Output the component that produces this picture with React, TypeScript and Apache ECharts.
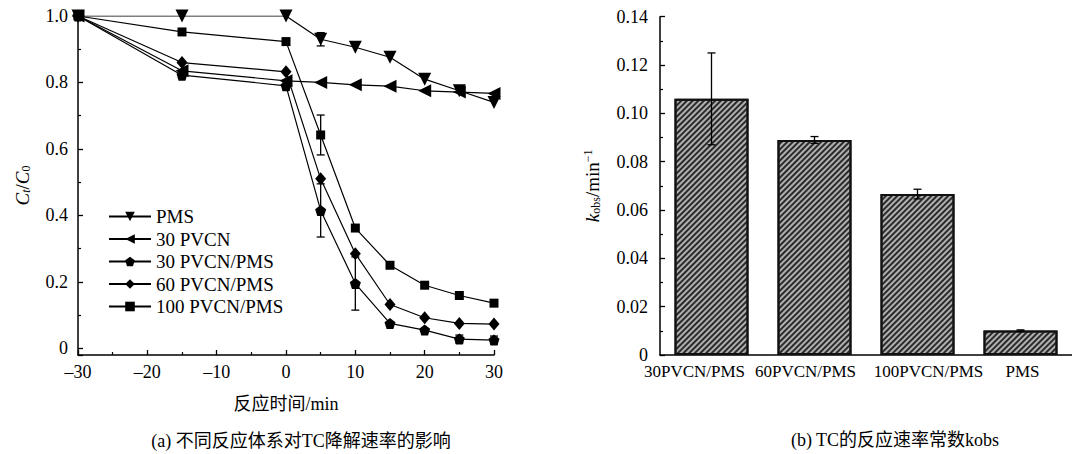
import React, { useEffect, useRef } from "react";
import * as echarts from "echarts";

// ---- Data: left chart (Ct/C0 vs time) ----
const times = [-30, -15, 0, 5, 10, 15, 20, 25, 30];
const seriesNames = ["PMS", "30 PVCN", "30 PVCN/PMS", "60 PVCN/PMS", "100 PVCN/PMS"];
const pmsVals = [1.0, 1.0, 1.0, 0.93, 0.906, 0.876, 0.81, 0.775, 0.74];
const pvcn30Vals = [1.0, 0.835, 0.805, 0.8, 0.793, 0.789, 0.775, 0.771, 0.767];
const pvcnPms30Vals = [1.0, 0.822, 0.79, 0.415, 0.195, 0.075, 0.055, 0.028, 0.025];
const pvcnPms60Vals = [1.0, 0.86, 0.832, 0.51, 0.285, 0.132, 0.092, 0.075, 0.073];
const pvcnPms100Vals = [1.0, 0.952, 0.923, 0.642, 0.362, 0.25, 0.19, 0.159, 0.136];
// error bars: [time, value, half-width]
const lineErrors = [
  [5, 0.93, 0.02],
  [0, 0.79, 0.012],
  [5, 0.415, 0.08],
  [10, 0.195, 0.08],
  [25, 0.028, 0.012],
  [30, 0.025, 0.012],
  [5, 0.642, 0.06],
];

// ---- Data: right chart (kobs) ----
const barCats = ["30PVCN/PMS", "60PVCN/PMS", "100PVCN/PMS", "PMS"];
const barVals = [0.106, 0.089, 0.0666, 0.0101];
const barErrs = [0.019, 0.0014, 0.002, 0.0003];

const SERIF = "Liberation Serif";
const CJK = "Liberation Serif, Noto Sans CJK SC";
const pentagon = "path://M0,-10 L9.51,-3.09 L5.88,8.09 L-5.88,8.09 L-9.51,-3.09 Z";

function errRender(params: any, api: any) {
  const x = api.value(0);
  const y = api.value(1);
  const e = api.value(2);
  const hi = api.coord([x, y + e]);
  const lo = api.coord([x, y - e]);
  const w = 4;
  const st = { stroke: "#000", lineWidth: 1.3 };
  return {
    type: "group",
    children: [
      { type: "line", shape: { x1: hi[0], y1: hi[1], x2: lo[0], y2: lo[1] }, style: st },
      { type: "line", shape: { x1: hi[0] - w, y1: hi[1], x2: hi[0] + w, y2: hi[1] }, style: st },
      { type: "line", shape: { x1: lo[0] - w, y1: lo[1], x2: lo[0] + w, y2: lo[1] }, style: st },
    ],
  };
}

export default function App() {
  const ref = useRef<HTMLDivElement>(null);
  useEffect(() => {
    if (!ref.current) return;
    const chart = echarts.init(ref.current, null, { renderer: "svg" });
    const mk = (arr: number[]) => times.map((t, i) => [t, arr[i]]);
    const lineBase = {
      type: "line",
      xAxisIndex: 0,
      yAxisIndex: 0,
      lineStyle: { color: "#000", width: 1.2 },
      itemStyle: { color: "#000" },
      z: 3,
    };
    const axisCommon = {
      axisLine: { show: true, onZero: false, lineStyle: { color: "#000", width: 1.5 } },
      axisTick: { show: true, inside: true, length: 5, lineStyle: { color: "#000", width: 1.3 } },
      minorTick: { show: true, splitNumber: 2, length: 3, lineStyle: { color: "#000", width: 1.2 } },
      splitLine: { show: false },
      minorSplitLine: { show: false },
    };
    chart.setOption({
      animation: false,
      backgroundColor: "#fff",
      textStyle: { fontFamily: SERIF },
      grid: [
        { left: 78, top: 16, width: 416, height: 339 },
        { left: 660, top: 16.7, width: 416, height: 338.3 },
      ],
      legend: {
        show: true,
        orient: "vertical",
        left: 103,
        top: 202,
        itemWidth: 42,
        itemHeight: 12,
        itemGap: 3.5,
        selectedMode: false,
        data: seriesNames,
        textStyle: { fontFamily: SERIF, fontSize: 19, color: "#000" },
      },
      xAxis: [
        {
          type: "value",
          gridIndex: 0,
          min: -30,
          max: 30,
          interval: 10,
          ...axisCommon,
          axisLabel: {
            color: "#000",
            fontFamily: SERIF,
            fontSize: 18,
            margin: 8,
            formatter: (v: number) => (v < 0 ? "\u2013" + Math.abs(v) : String(v)),
          },
          name: "反应时间/min",
          nameLocation: "middle",
          nameGap: 40,
          nameTextStyle: { color: "#000", fontFamily: CJK, fontSize: 18 },
        },
        {
          type: "category",
          gridIndex: 1,
          data: barCats,
          axisLine: { show: true, onZero: false, lineStyle: { color: "#000", width: 1.5 } },
          axisTick: { show: false },
          axisLabel: {
            interval: 0,
            color: "#000",
            fontFamily: SERIF,
            fontSize: 17,
            margin: 8,
            formatter: (v: string) => {
              const i = barCats.indexOf(v);
              return "{s" + i + "|" + v + "}";
            },
            rich: {
              s0: { fontFamily: SERIF, fontSize: 17, color: "#000", padding: [0, 34, 0, 0] },
              s1: { fontFamily: SERIF, fontSize: 17, color: "#000", padding: [0, 18, 0, 0] },
              s2: { fontFamily: SERIF, fontSize: 17, color: "#000", padding: [0, 0, 0, 22] },
              s3: { fontFamily: SERIF, fontSize: 17, color: "#000", padding: [0, 0, 0, 4] },
            },
          },
        },
      ],
      yAxis: [
        {
          type: "value",
          gridIndex: 0,
          min: -0.02,
          max: 1.0,
          splitNumber: 5,
          ...axisCommon,
          axisLabel: {
            color: "#000",
            fontFamily: SERIF,
            fontSize: 18,
            margin: 10,
            formatter: (v: number) => (v < -1e-9 ? "" : Math.abs(v) < 1e-9 ? "0" : v.toFixed(1)),
          },
          name: "{i|C}{si|t}{n|/}{i|C}{s|0}",
          nameLocation: "middle",
          nameRotate: 90,
          nameGap: 46,
          nameTextStyle: {
            color: "#000",
            rich: {
              i: { fontFamily: SERIF, fontStyle: "italic", fontSize: 19, color: "#000" },
              n: { fontFamily: SERIF, fontSize: 19, color: "#000" },
              si: { fontFamily: SERIF, fontStyle: "italic", fontSize: 12, color: "#000", padding: [8, 0, 0, 0] },
              s: { fontFamily: SERIF, fontSize: 12, color: "#000", padding: [8, 0, 0, 0] },
            },
          },
        },
        {
          type: "value",
          gridIndex: 1,
          min: 0,
          max: 0.14,
          interval: 0.02,
          ...axisCommon,
          axisLabel: {
            color: "#000",
            fontFamily: SERIF,
            fontSize: 18,
            margin: 12,
            formatter: (v: number) => (Math.abs(v) < 1e-9 ? "0" : v.toFixed(2)),
          },
          name: "{i|k}{s|obs}{n|/min}{p|\u22121}",
          nameLocation: "middle",
          nameRotate: 90,
          nameGap: 58,
          nameTextStyle: {
            color: "#000",
            rich: {
              i: { fontFamily: SERIF, fontStyle: "italic", fontSize: 19, color: "#000" },
              n: { fontFamily: SERIF, fontSize: 19, color: "#000" },
              s: { fontFamily: SERIF, fontSize: 12, color: "#000", padding: [8, 0, 0, 0] },
              p: { fontFamily: SERIF, fontSize: 12, color: "#000", padding: [0, 0, 8, 0] },
            },
          },
        },
      ],
      series: [
        {
          type: "custom",
          xAxisIndex: 0,
          yAxisIndex: 0,
          renderItem: errRender,
          data: lineErrors,
          z: 2,
          silent: true,
        },
        { ...lineBase, name: seriesNames[0], data: mk(pmsVals), symbol: "triangle", symbolRotate: 180, symbolSize: 13 },
        { ...lineBase, name: seriesNames[1], data: mk(pvcn30Vals), symbol: "triangle", symbolRotate: 90, symbolSize: 13 },
        { ...lineBase, name: seriesNames[2], data: mk(pvcnPms30Vals), symbol: pentagon, symbolSize: 11 },
        { ...lineBase, name: seriesNames[3], data: mk(pvcnPms60Vals), symbol: "diamond", symbolSize: [11, 13] },
        { ...lineBase, name: seriesNames[4], data: mk(pvcnPms100Vals), symbol: "rect", symbolSize: 9 },
        {
          type: "bar",
          xAxisIndex: 1,
          yAxisIndex: 1,
          data: barVals,
          barWidth: 74,
          itemStyle: {
            color: "#b0b0b0",
            borderColor: "#111",
            borderWidth: 2,
            decal: {
              symbol: "rect",
              symbolSize: 1,
              dashArrayX: [1, 0],
              dashArrayY: [2, 1.5],
              rotation: -Math.PI / 4,
              color: "#2a2a2a",
            },
          },
          z: 2,
        },
        {
          type: "custom",
          xAxisIndex: 1,
          yAxisIndex: 1,
          renderItem: errRender,
          data: barVals.map((v, i) => [i, v, barErrs[i]]),
          z: 4,
          silent: true,
        },
      ],
      graphic: [
        {
          type: "text",
          x: 301,
          y: 441,
          style: {
            text: "(a) 不同反应体系对TC降解速率的影响",
            fontFamily: CJK,
            fontSize: 18,
            fill: "#000",
            textAlign: "center",
            textVerticalAlign: "middle",
          },
        },
        {
          type: "text",
          x: 895,
          y: 440,
          style: {
            text: "(b) TC的反应速率常数kobs",
            fontFamily: CJK,
            fontSize: 18,
            fill: "#000",
            textAlign: "center",
            textVerticalAlign: "middle",
          },
        },
      ],
    });
    return () => chart.dispose();
  }, []);
  return (
    <div
      ref={ref}
      style={{ position: "absolute", left: 0, top: 0, width: 1072, height: 454, background: "#fff" }}
    />
  );
}
